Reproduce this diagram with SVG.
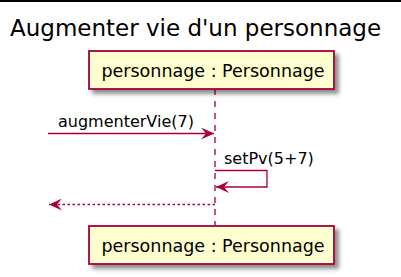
<svg xmlns="http://www.w3.org/2000/svg" width="401" height="277" viewBox="0 0 401 277">
  <defs>
    <filter id="shadow" x="-10%" y="-20%" width="130%" height="160%">
      <feGaussianBlur in="SourceAlpha" stdDeviation="2"/>
      <feOffset dx="4" dy="4" result="b"/>
      <feComponentTransfer><feFuncA type="linear" slope="0.45"/></feComponentTransfer>
      <feMerge><feMergeNode/><feMergeNode in="SourceGraphic"/></feMerge>
    </filter>
    <marker id="arrow" viewBox="0 0 14 12" refX="13" refY="6" markerWidth="14" markerHeight="12" markerUnits="userSpaceOnUse" orient="auto">
      <path d="M0,0 L13,6 L0,12 L5,6 Z" fill="#A80036"/>
    </marker>
  </defs>
  <style>
    .box { fill: #FEFECE; stroke: #A80036; stroke-width: 1.8; }
    .lbl { font-family: "DejaVu Sans", sans-serif; fill: #000; }
    .msg { stroke: #A80036; stroke-width: 1.3; fill: none; }
    .life { stroke: #A80036; stroke-width: 1.3; stroke-dasharray: 6,6; }
  </style>
  <rect width="401" height="277" fill="#fff"/>
  <line x1="0" y1="1" x2="401" y2="1" stroke="#000" stroke-width="2"/>
  <text class="lbl" x="10" y="36" font-size="23" fill="#222">Augmenter vie d'un personnage</text>

  <g id="lifeline">
    <line class="life" x1="215" y1="89" x2="215" y2="225"/>
  </g>

  <g id="participant-top">
    <rect class="box" x="89" y="51" width="245" height="38" filter="url(#shadow)"/>
    <text class="lbl" x="213" y="76.5" font-size="17.5" text-anchor="middle">personnage : Personnage</text>
  </g>
  <g id="participant-bottom">
    <rect class="box" x="89" y="226" width="245" height="38" filter="url(#shadow)"/>
    <text class="lbl" x="213" y="251.5" font-size="17.5" text-anchor="middle">personnage : Personnage</text>
  </g>

  <g id="connectors">
    <line class="msg" x1="48" y1="133.5" x2="214" y2="133.5" marker-end="url(#arrow)"/>
    <text class="lbl" x="58" y="127" font-size="16">augmenterVie(7)</text>

    <polyline class="msg" points="215,170.5 267,170.5 267,187 216,187" marker-end="url(#arrow)"/>
    <text class="lbl" x="224" y="164" font-size="16">setPv(5+7)</text>

    <line class="msg" x1="215" y1="204.5" x2="49" y2="204.5" stroke-dasharray="2.5,2.5" marker-end="url(#arrow)"/>
  </g>
</svg>
